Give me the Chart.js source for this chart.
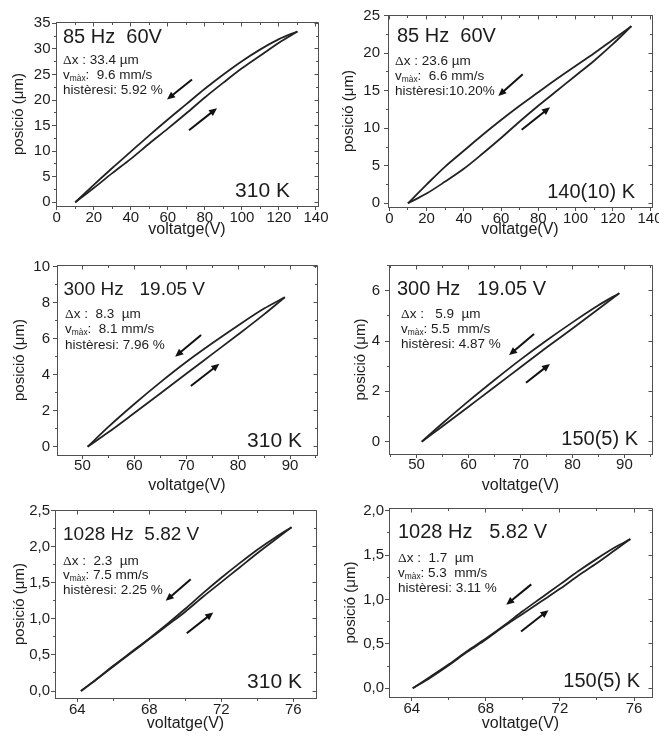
<!DOCTYPE html>
<html lang="ca">
<head>
<meta charset="utf-8">
<title>Histèresi del posicionador piezoelèctric</title>
<script src="https://cdn.jsdelivr.net/npm/chart.js@4.4.1/dist/chart.umd.min.js"></script>
<style>
  html, body { margin: 0; padding: 0; background: #fff; }
  body { position: relative; width: 659px; height: 736px; overflow: hidden; }
  canvas { position: absolute; display: block; }
</style>
</head>
<body>
<canvas id="p1" width="330" height="245" style="left:0;top:0"></canvas>
<canvas id="p2" width="345" height="245" style="left:330px;top:0"></canvas>
<canvas id="p3" width="330" height="255" style="left:0;top:245px"></canvas>
<canvas id="p4" width="345" height="255" style="left:330px;top:245px"></canvas>
<canvas id="p5" width="330" height="246" style="left:0;top:490px"></canvas>
<canvas id="p6" width="345" height="246" style="left:330px;top:490px"></canvas>
<script>
// ---- Mesures: posició (µm) en funció del voltatge (V) ----

// 85 Hz, 60 V, 310 K
const volt85_310 = [10, 20, 30, 40, 50, 60, 70, 80, 90, 100, 110, 120, 130];
const puja85_310 = [0, 2.8, 5.7, 8.5, 11.5, 14.4, 17.4, 20.5, 23.4, 26.2, 28.7, 31.2, 33.4];
const baixa85_310 = [0, 3.4, 6.7, 9.9, 13.1, 16.2, 19.2, 22.2, 25.0, 27.6, 29.9, 31.9, 33.4];
const fletxes85_310 = [[73.05, 24.0, 59.55, 20.1], [71.43, 14.1, 86.55, 18.4]];

// 85 Hz, 60 V, 140(10) K
const volt85_140 = [10, 20, 30, 40, 50, 60, 70, 80, 90, 100, 110, 120, 130];
const puja85_140 = [0, 1.3, 2.9, 4.6, 6.6, 8.7, 10.9, 13.0, 15.0, 17.0, 19.0, 21.2, 23.6];
const baixa85_140 = [0, 2.5, 4.9, 7.0, 9.1, 11.1, 13.0, 14.8, 16.6, 18.3, 20.0, 21.8, 23.6];
const fletxes85_140 = [[71.64, 17.2, 58.54, 14.3], [71.1, 9.8, 86.3, 12.8]];

// 300 Hz, 19.05 V, 310 K
const volt300_310 = [51, 55, 60, 65, 70, 75, 80, 85, 89];
const puja300_310 = [0, 0.80, 1.87, 2.95, 4.05, 5.14, 6.23, 7.35, 8.3];
const baixa300_310 = [0, 1.10, 2.37, 3.57, 4.70, 5.74, 6.73, 7.67, 8.3];
const fletxes300_310 = [[72.87, 6.2, 67.87, 5.0], [70.89, 3.37, 76.39, 4.6]];

// 300 Hz, 19.05 V, 150(5) K
const volt300_150 = [51, 55, 60, 65, 70, 75, 80, 85, 89];
const puja300_150 = [0, 0.61, 1.39, 2.17, 2.96, 3.74, 4.50, 5.27, 5.9];
const baixa300_150 = [0, 0.73, 1.61, 2.45, 3.26, 4.02, 4.74, 5.42, 5.9];
const fletxes300_150 = [[72.6, 4.28, 67.8, 3.44], [71.06, 2.34, 75.67, 3.09]];

// 1028 Hz, 5.82 V, 310 K
const volt1028_310 = [64.2, 65, 66, 67, 68, 69, 70, 71, 72, 73, 74, 75, 75.9];
const puja1028_310 = [0, 0.15, 0.34, 0.53, 0.72, 0.91, 1.10, 1.31, 1.51, 1.71, 1.91, 2.10, 2.27];
const baixa1028_310 = [0, 0.15, 0.35, 0.54, 0.73, 0.93, 1.14, 1.36, 1.57, 1.77, 1.96, 2.13, 2.27];
const fletxes1028_310 = [[70.3, 1.55, 68.91, 1.25], [70.08, 0.80, 71.55, 1.09]];

// 1028 Hz, 5.82 V, 150(5) K
const volt1028_150 = [64.05, 65, 66, 67, 68, 69, 70, 71, 72, 73, 74, 75, 75.8];
const puja1028_150 = [0, 0.12, 0.26, 0.41, 0.55, 0.70, 0.84, 0.98, 1.12, 1.27, 1.41, 1.56, 1.68];
const baixa1028_150 = [0, 0.13, 0.27, 0.42, 0.56, 0.71, 0.87, 1.02, 1.17, 1.32, 1.46, 1.59, 1.68];
const fletxes1028_150 = [[70.45, 1.17, 69.1, 0.94], [69.9, 0.64, 71.38, 0.88]];

// Marques dels eixos
const ticksV85 = [0, 20, 40, 60, 80, 100, 120, 140];
const ticksV300 = [50, 60, 70, 80, 90];
const ticksV1028 = [64, 68, 72, 76];
const ticksPos85_310 = [0, 5, 10, 15, 20, 25, 30, 35];
const ticksPos85_140 = [0, 5, 10, 15, 20, 25];
const ticksPos300_310 = [0, 2, 4, 6, 8, 10];
const ticksPos300_150 = [0, 2, 4, 6];
const ticksPos1028_310 = [0, 0.5, 1.0, 1.5, 2.0, 2.5];
const ticksPos1028_150 = [0, 0.5, 1.0, 1.5, 2.0];

// ---- Estil ----
const SANS = '"Liberation Sans", Arial, Helvetica, sans-serif';
const SERIF = '"Liberation Serif", "Times New Roman", serif';
const INK = '#1c1c1c';
const FRAME = '#505050';
const CURVE = '#222222';

function align(p) { return Math.round(p - 0.5) + 0.5; }

function minors(ticks, lo, hi) {
  const step = ticks[1] - ticks[0];
  const out = [];
  for (let v = ticks[0] - step / 2; v <= hi + 1e-9; v += step) {
    if (v >= lo - 1e-9) out.push(v);
  }
  return out;
}

// Marc complet: costats superior i dret, marques secundàries i marques reflectides
const marcPlugin = {
  id: 'marc',
  afterDraw(chart) {
    const { ctx, chartArea: a, scales: { x, y } } = chart;
    const L = align(a.left), R = align(a.right), T = align(a.top), B = align(a.bottom);
    ctx.save();
    ctx.strokeStyle = FRAME;
    ctx.lineWidth = 1;
    ctx.beginPath();
    ctx.moveTo(L, T); ctx.lineTo(R, T); ctx.lineTo(R, B);
    ctx.stroke();
    ctx.beginPath();
    x.ticks.forEach(t => {
      const px = align(x.getPixelForValue(t.value));
      ctx.moveTo(px, T); ctx.lineTo(px, T + 4);
    });
    y.ticks.forEach(t => {
      const py = align(y.getPixelForValue(t.value));
      ctx.moveTo(R, py); ctx.lineTo(R - 4, py);
    });
    minors(x.ticks.map(t => t.value), x.min, x.max).forEach(v => {
      const px = align(x.getPixelForValue(v));
      ctx.moveTo(px, B); ctx.lineTo(px, B + 2.5);
      ctx.moveTo(px, T); ctx.lineTo(px, T + 2.5);
    });
    minors(y.ticks.map(t => t.value), y.min, y.max).forEach(v => {
      const py = align(y.getPixelForValue(v));
      ctx.moveTo(L, py); ctx.lineTo(L - 2.5, py);
      ctx.moveTo(R, py); ctx.lineTo(R - 2.5, py);
    });
    ctx.stroke();
    ctx.restore();
  }
};

// Fletxes que indiquen el sentit del recorregut del cicle
const fletxesPlugin = {
  id: 'fletxes',
  afterDatasetsDraw(chart, args, o) {
    const { ctx, scales: { x, y } } = chart;
    ctx.save();
    ctx.strokeStyle = '#111';
    ctx.fillStyle = '#111';
    ctx.lineWidth = 2;
    (o.llista || []).forEach(([x0, y0, x1, y1]) => {
      const X0 = x.getPixelForValue(x0), Y0 = y.getPixelForValue(y0);
      const X1 = x.getPixelForValue(x1), Y1 = y.getPixelForValue(y1);
      const ang = Math.atan2(Y1 - Y0, X1 - X0);
      const c = Math.cos(ang), s = Math.sin(ang);
      const hl = 8, hw = 3.6;
      ctx.beginPath();
      ctx.moveTo(X0, Y0);
      ctx.lineTo(X1 - c * hl * 0.7, Y1 - s * hl * 0.7);
      ctx.stroke();
      ctx.beginPath();
      ctx.moveTo(X1, Y1);
      ctx.lineTo(X1 - c * hl - s * hw, Y1 - s * hl + c * hw);
      ctx.lineTo(X1 - c * hl + s * hw, Y1 - s * hl - c * hw);
      ctx.closePath();
      ctx.fill();
    });
    ctx.restore();
  }
};

// Rètols de cada gràfic: condicions, Δx, vmàx, histèresi i temperatura
const notesPlugin = {
  id: 'notes',
  afterDraw(chart, args, o) {
    const n = o.n;
    if (!n) return;
    const { ctx, chartArea: a } = chart;
    ctx.save();
    ctx.fillStyle = INK;
    ctx.textAlign = 'left';
    ctx.textBaseline = 'alphabetic';
    ctx.font = n.fT + 'px ' + SANS;
    ctx.fillText(n.titol, a.left + n.x0, a.top + n.yT);

    let x = a.left + n.x1;
    let yb = a.top + n.files[0];
    ctx.font = n.fS + 'px ' + SERIF;
    ctx.fillText('Δ', x, yb);
    x += ctx.measureText('Δ').width;
    ctx.font = n.fS + 'px ' + SANS;
    ctx.fillText('x' + n.dx, x, yb);

    x = a.left + n.x1;
    yb = a.top + n.files[1];
    ctx.fillText('v', x, yb);
    x += ctx.measureText('v').width;
    ctx.font = (n.fS * 0.62).toFixed(1) + 'px ' + SANS;
    ctx.fillText('màx', x, yb + 2);
    x += ctx.measureText('màx').width;
    ctx.font = n.fS + 'px ' + SANS;
    ctx.fillText(n.v, x, yb);

    ctx.fillText(n.h, a.left + n.x1, a.top + n.files[2]);

    ctx.textAlign = 'right';
    ctx.font = n.fK + 'px ' + SANS;
    ctx.fillText(n.temp, a.right - n.kr, a.bottom - n.kb);
    ctx.restore();
  }
};

function serie(volt, pos) {
  return volt.map((v, i) => ({ x: v, y: pos[i] }));
}

function grafic(id, cfg) {
  const g = cfg.geo;
  const fmtY = cfg.decimals
    ? v => v.toFixed(cfg.decimals).replace('.', ',')
    : v => String(v);
  const corba = {
    showLine: true,
    pointRadius: 0,
    borderColor: CURVE,
    borderWidth: 1.8,
    cubicInterpolationMode: 'monotone',
    fill: false
  };
  return new Chart(document.getElementById(id), {
    type: 'scatter',
    data: {
      datasets: [
        Object.assign({ label: 'pujada', data: serie(cfg.volt, cfg.puja) }, corba),
        Object.assign({ label: 'baixada', data: serie(cfg.volt, cfg.baixa) }, corba)
      ]
    },
    options: {
      responsive: false,
      animation: false,
      events: [],
      devicePixelRatio: 1,
      layout: { padding: { left: 0, top: g.T, right: g.R, bottom: 0 } },
      plugins: {
        legend: { display: false },
        tooltip: { enabled: false },
        fletxes: { llista: cfg.fletxes },
        notes: { n: cfg.notes }
      },
      scales: {
        x: {
          type: 'linear',
          min: cfg.xr[0],
          max: cfg.xr[1],
          afterBuildTicks: s => { s.ticks = cfg.ticksX.map(v => ({ value: v })); },
          afterFit: s => { s.height = g.xh; s.paddingLeft = 0; s.paddingRight = 0; },
          grid: { display: true, drawOnChartArea: false, drawTicks: true, tickLength: 4, color: FRAME, lineWidth: 1 },
          border: { display: true, color: FRAME, width: 1 },
          ticks: {
            autoSkip: false, maxRotation: 0, padding: g.xPad, color: INK,
            font: { family: SANS, size: 15, lineHeight: 1 },
            callback: v => String(v)
          },
          title: {
            display: true, text: 'voltatge(V)', color: INK,
            font: { family: SANS, size: 16, lineHeight: 1.2 },
            padding: { top: 0, bottom: g.xTitle }
          }
        },
        y: {
          type: 'linear',
          min: cfg.yr[0],
          max: cfg.yr[1],
          afterBuildTicks: s => { s.ticks = cfg.ticksY.map(v => ({ value: v })); },
          afterFit: s => { s.width = g.L; s.paddingTop = 0; s.paddingBottom = 0; },
          grid: { display: true, drawOnChartArea: false, drawTicks: true, tickLength: 4, color: FRAME, lineWidth: 1 },
          border: { display: true, color: FRAME, width: 1 },
          ticks: {
            autoSkip: false, padding: g.yPad, color: INK,
            font: { family: SANS, size: 15, lineHeight: 1 },
            callback: v => fmtY(v)
          },
          title: {
            display: true, text: 'posició (μm)', color: INK,
            font: { family: SANS, size: 15, lineHeight: 1.2 },
            padding: { top: g.yTitle, bottom: 0 }
          }
        }
      }
    },
    plugins: [marcPlugin, fletxesPlugin, notesPlugin]
  });
}

grafic('p1', {
  volt: volt85_310, puja: puja85_310, baixa: baixa85_310, fletxes: fletxes85_310,
  ticksX: ticksV85, ticksY: ticksPos85_310, xr: [-0.4, 141.1], yr: [-0.72, 35.25], decimals: 0,
  geo: { L: 56, T: 22, R: 12, xh: 39, xPad: 0, yPad: 1.5, xTitle: 5.9, yTitle: 10 },
  notes: { titol: '85 Hz  60V', dx: ' : 33.4 µm', v: ':  9.6 mm/s', h: 'histèresi: 5.92 %', temp: '310 K',
           fT: 20, fS: 13.5, fK: 21, x0: 7, yT: 21.3, x1: 7, files: [42, 56.5, 71.5], kr: 28, kb: 9 }
});

grafic('p2', {
  volt: volt85_140, puja: puja85_140, baixa: baixa85_140, fletxes: fletxes85_140,
  ticksX: ticksV85, ticksY: ticksPos85_140, xr: [-0.7, 141.07], yr: [-0.49, 25.09], decimals: 0,
  geo: { L: 58, T: 15, R: 23, xh: 38, xPad: 0, yPad: 4, xTitle: 5.9, yTitle: 10 },
  notes: { titol: '85 Hz  60V', dx: ' : 23.6 µm', v: ':  6.6 mm/s', h: 'histèresi:10.20%', temp: '140(10) K',
           fT: 20, fS: 13.5, fK: 20, x0: 9, yT: 26.5, x1: 7, files: [49.5, 64.5, 79.5], kr: 17, kb: 9 }
});

grafic('p3', {
  volt: volt300_310, puja: puja300_310, baixa: baixa300_310, fletxes: fletxes300_310,
  ticksX: ticksV300, ticksY: ticksPos300_310, xr: [45.1, 95.2], yr: [-0.46, 10.09], decimals: 0,
  geo: { L: 57, T: 20, R: 13, xh: 45, xPad: -0.5, yPad: 3, xTitle: 4.4, yTitle: 11 },
  notes: { titol: '300 Hz   19.05 V', dx: ' :  8.3  µm', v: ':  8.1 mm/s', h: 'histèresi: 7.96 %', temp: '310 K',
           fT: 19, fS: 13.5, fK: 21, x0: 6.5, yT: 30, x1: 8, files: [53, 68, 84], kr: 15, kb: 8 }
});

grafic('p4', {
  volt: volt300_150, puja: puja300_150, baixa: baixa300_150, fletxes: fletxes300_150,
  ticksX: ticksV300, ticksY: ticksPos300_150, xr: [44.7, 95.3], yr: [-0.49, 7.02], decimals: 0,
  geo: { L: 59, T: 20, R: 23, xh: 46, xPad: -0.5, yPad: 5, xTitle: 4.4, yTitle: 22 },
  notes: { titol: '300 Hz   19.05 V', dx: ' :   5.9  µm', v: ': 5.5  mm/s', h: 'histèresi: 4.87 %', temp: '150(5) K',
           fT: 20, fS: 13.5, fK: 20, x0: 8, yT: 30, x1: 12, files: [53, 68, 83], kr: 14, kb: 9 }
});

grafic('p5', {
  volt: volt1028_310, puja: puja1028_310, baixa: baixa1028_310, fletxes: fletxes1028_310,
  ticksX: ticksV1028, ticksY: ticksPos1028_310, xr: [62.76, 77.26], yr: [-0.097, 2.51], decimals: 1,
  geo: { L: 55, T: 20, R: 14, xh: 38, xPad: 0, yPad: 1, xTitle: 2.4, yTitle: 11 },
  notes: { titol: '1028 Hz  5.82 V', dx: ' :  2.3  µm', v: ': 7.5 mm/s', h: 'histèresi: 2.25 %', temp: '310 K',
           fT: 19, fS: 13.5, fK: 21, x0: 8, yT: 30, x1: 8, files: [55, 69, 84], kr: 14, kb: 10 }
});

grafic('p6', {
  volt: volt1028_150, puja: puja1028_150, baixa: baixa1028_150, fletxes: fletxes1028_150,
  ticksX: ticksV1028, ticksY: ticksPos1028_150, xr: [62.77, 76.97], yr: [-0.098, 2.03], decimals: 1,
  geo: { L: 59, T: 18, R: 23, xh: 39, xPad: 0, yPad: 1, xTitle: 2.4, yTitle: 12 },
  notes: { titol: '1028 Hz   5.82 V', dx: ' :  1.7  µm', v: ': 5.3  mm/s', h: 'histèresi: 3.11 %', temp: '150(5) K',
           fT: 20, fS: 13.5, fK: 20, x0: 9, yT: 30, x1: 9, files: [54, 69, 84], kr: 12, kb: 10 }
});
</script>
</body>
</html>
